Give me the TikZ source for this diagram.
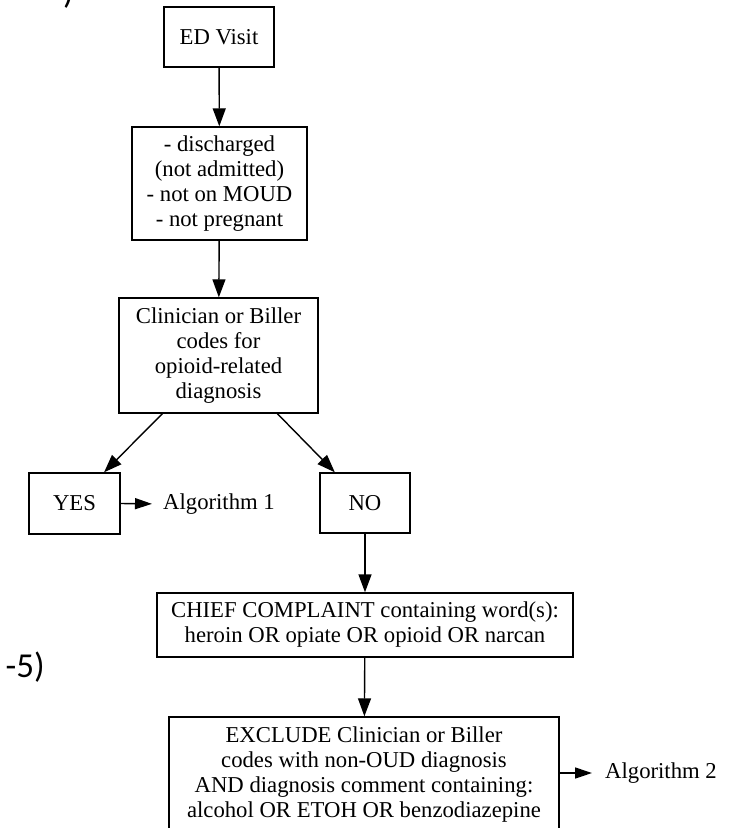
\documentclass[tikz,border=0pt]{standalone}
\usepackage{fontspec}
\setmainfont{Liberation Serif}
\newfontfamily\calib{Carlito}
\usetikzlibrary{arrows.meta,calc}
\begin{document}
\begin{tikzpicture}[x=1pt,y=-1pt,
 box/.style={draw,line width=1.4pt,align=center,inner sep=0pt,font=\fontsize{22.7}{25}\selectfont},
 lbl/.style={inner sep=0pt,font=\fontsize{22.7}{25}\selectfont},
 big/.style={line width=1.4pt,-{Triangle[length=18pt,width=13pt]}},
 small/.style={line width=1.4pt,-{Triangle[length=17pt,width=11pt]}},
 frag/.style={inner sep=0pt,font=\calib\fontsize{35}{40}\selectfont}]
\useasboundingbox (0,0) rectangle (739,828);
\clip (0,0) rectangle (739,828);
\node[frag,anchor=base east] (f1) at (74,3) {)};
\node[frag,anchor=base east] (f2) at (45,677) {-5)};
\node[box,minimum width=110pt,minimum height=60pt] (ed) at (219,37) {ED Visit};
\node[box,minimum width=175pt,minimum height=113pt] (b2) at (219.5,183.5) {- discharged\\(not admitted)\\- not on MOUD\\- not pregnant};
\node[box,minimum width=199pt,minimum height=115pt] (b3) at (218.5,355.5) {Clinician or Biller\\codes for\\opioid-related\\diagnosis};
\node[box,minimum width=91pt,minimum height=61pt] (yes) at (74.5,503.5) {YES};
\node[box,minimum width=90pt,minimum height=60pt] (no) at (365,503) {NO};
\node[lbl,anchor=west] (alg1) at (163,504) {Algorithm 1};
\node[box,minimum width=416pt,minimum height=64pt] (cc) at (365,625) {CHIEF COMPLAINT containing word(s):\\heroin OR opiate OR opioid OR narcan};
\node[box,minimum width=390pt,minimum height=116pt] (ex) at (364,775) {EXCLUDE Clinician or Biller\\codes with non-OUD diagnosis\\AND diagnosis comment containing:\\alcohol OR ETOH OR benzodiazepine};
\node[lbl,anchor=west] (alg2) at (605,773) {Algorithm 2};
\draw[big] (ed) -- (b2);
\draw[big] (b2) -- (b3);
\draw[big] ($(b3.south west)!0.22!(b3.south east)$) -- ($(yes.north west)!0.82!(yes.north east)$);
\draw[big] ($(b3.south west)!0.794!(b3.south east)$) -- ($(no.north west)!0.17!(no.north east)$);
\draw[small,shorten >=11pt] (yes.east) -- (alg1.west);
\draw[big] (no) -- (cc);
\draw[big] (cc) -- (ex);
\draw[small,shorten >=13pt] (ex.east |- alg2.west) -- (alg2.west);
\end{tikzpicture}
\end{document}
